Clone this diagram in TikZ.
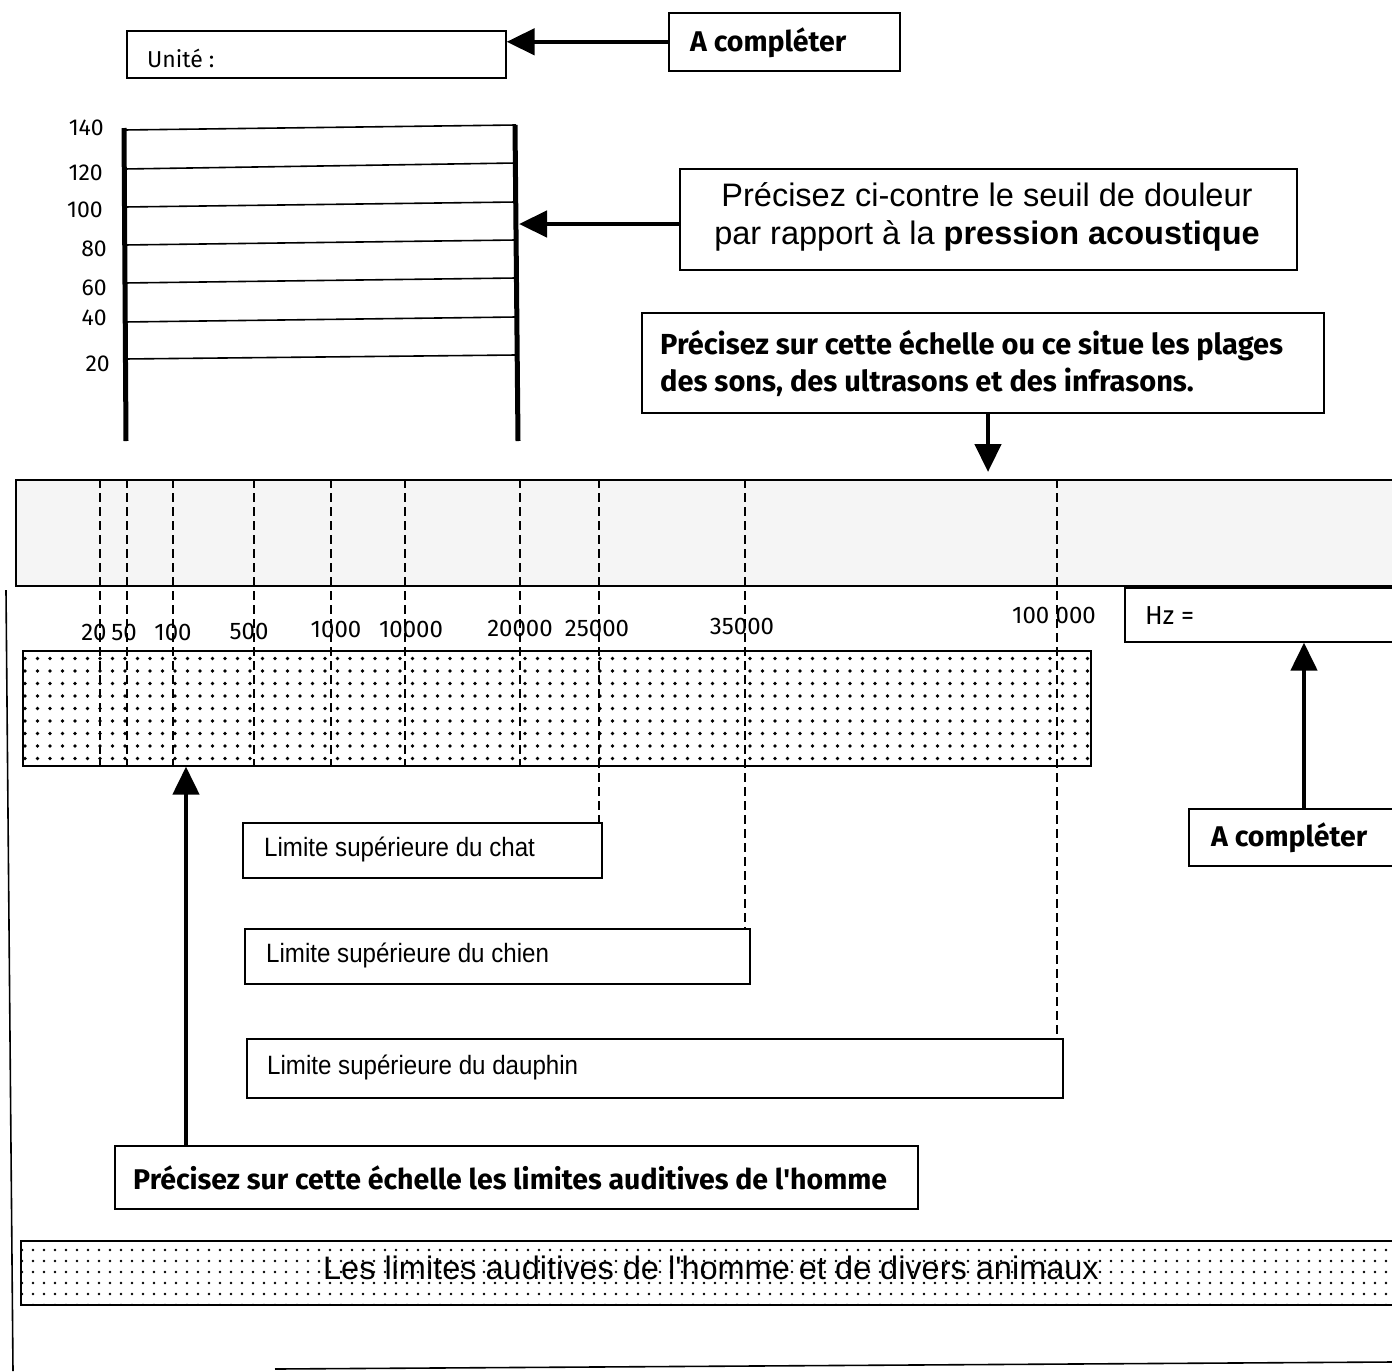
\documentclass[tikz,border=0pt]{standalone}
\usepackage{fontspec}
\setmainfont{Liberation Sans}
\newfontfamily\comic{Fira Sans}
\usetikzlibrary{arrows.meta,patterns.meta}
\begin{document}
\begin{tikzpicture}[x=1pt,y=-1pt,
  box/.style={draw, line width=1.6pt, rectangle, inner sep=0pt, anchor=north west},
  bigarrow/.style={line width=4.5pt, -{Triangle[length=28pt,width=26pt]}},
  dashline/.style={line width=1.8pt, dash pattern=on 9pt off 5pt},
  thinline/.style={line width=1.6pt},
  thickline/.style={line width=5pt},
  txt/.style={inner sep=0pt, anchor=west},
  scalelbl/.style={inner sep=0pt, anchor=east, font=\comic\fontsize{23}{24}\selectfont},
  freqlbl/.style={inner sep=0pt, font=\comic\fontsize{24}{26}\selectfont},
  comicbold/.style={font=\comic\bfseries\fontsize{28.5}{37}\selectfont},
  arial/.style={font=\fontsize{26.5}{30}\selectfont},
  dots/.style={pattern={Dots[distance=12.5pt,radius=1.9pt]}},
  finedots/.style={pattern={Dots[distance=11pt,radius=1.3pt]}}
]
\useasboundingbox (0,0) rectangle (1392,1371);

% ---- top: unit box
\node[box, minimum width=379pt, minimum height=47pt] (unite) at (126,30) {};
\node[txt, font=\comic\fontsize{23}{24}\selectfont] (uniteT) at (147,58) {Unité :};
\node[box, minimum width=231pt, minimum height=58pt] (acomp1) at (668,12) {};
\node[txt, comicbold] (acomp1T) at (690,43) {A compléter};
\draw[bigarrow] (acomp1.west) -- (unite.east |- acomp1.west);

% ---- pressure scale
\coordinate (sLt) at (124,128);
\coordinate (sLb) at (126,441);
\coordinate (sRt) at (515,125);
\coordinate (sRb) at (518,441);
\draw[thickline] (sLt) -- (sLb);
\draw[thickline] (sRt) -- (sRb);
\foreach \yl/\yr in {130/125,169/163,207/202,245/240,283/278,322/317,359/355}{
  \draw[thinline] (124,\yl) -- (516,\yr);
}
\node[scalelbl] (l140) at (104,128) {140};
\node[scalelbl] (l120) at (103,173) {120};
\node[scalelbl] (l100) at (103,210) {100};
\node[scalelbl] (l80) at (107,249) {80};
\node[scalelbl] (l60) at (107,288) {60};
\node[scalelbl] (l40) at (107,318) {40};
\node[scalelbl] (l20) at (110,364) {20};

% ---- pain threshold box
\node[box, minimum width=617pt, minimum height=101pt] (douleur) at (679,168) {};
\node[inner sep=0pt, align=center, font=\fontsize{32.5}{38}\selectfont] (douleurT) at (987,217)
  {Précisez ci-contre le seuil de douleur\\par rapport à la \textbf{pression acoustique}};
\coordinate (scaleR) at (519,224);
\draw[bigarrow] (douleur.west |- scaleR) -- (scaleR);

% ---- ranges box
\node[box, minimum width=682pt, minimum height=100pt] (plages) at (641,312) {};
\node[txt, comicbold, font=\comic\bfseries\fontsize{29}{37}\selectfont, align=left] (plagesT) at (660,363)
  {Précisez sur cette échelle ou ce situe les plages\\des sons, des ultrasons et des infrasons.};
\coordinate (bandArrow) at (988,472);
\draw[bigarrow] (plages.south -| bandArrow) -- (bandArrow);

% ---- frequency bands
\node[box, minimum width=1400pt, minimum height=106pt, fill=black!4] (band) at (15,479) {};
\node[box, minimum width=1068pt, minimum height=115pt, dots] (dband) at (22,650) {};

% ---- boxes below
\node[box, minimum width=359pt, minimum height=55pt] (chat) at (242,822) {};
\node[txt, arial] (chatT) at (264,849) {\scalebox{0.91}[1]{Limite supérieure du chat}};
\node[box, minimum width=505pt, minimum height=55pt] (chien) at (244,928) {};
\node[txt, arial] (chienT) at (266,955) {\scalebox{0.91}[1]{Limite supérieure du chien}};
\node[box, minimum width=816pt, minimum height=59pt] (dauphin) at (246,1038) {};
\node[txt, arial] (dauphinT) at (267,1067) {\scalebox{0.91}[1]{Limite supérieure du dauphin}};

% ---- dashed frequency marks
\foreach \x/\n in {100/1,127/2,173/3,254/4,331/5,405/6,520/7}{
  \coordinate (d\n) at (\x,479);
  \draw[dashline] (d\n) -- (d\n |- dband.south);
}
\coordinate (d8) at (599,479);
\coordinate (d9) at (745,479);
\coordinate (d10) at (1057,479);
\draw[dashline] (d8) -- (d8 |- chat.north);
\draw[dashline] (d9) -- (d9 |- chien.north);
\draw[dashline] (d10) -- (d10 |- dauphin.north);

\node[freqlbl] (f20) at (94,632) {20};
\node[freqlbl] (f50) at (124,632) {50};
\node[freqlbl] (f100) at (173,632) {100};
\node[freqlbl] (f500) at (249,631) {500};
\node[freqlbl] (f1000) at (336,629) {1000};
\node[freqlbl] (f10000) at (411,629) {10000};
\node[freqlbl] (f20000) at (520,628) {20000};
\node[freqlbl] (f25000) at (597,628) {25000};
\node[freqlbl] (f35000) at (742,626) {35000};
\node[freqlbl] (f100000) at (1054,615) {100 000};

% ---- Hz box
\node[box, minimum width=300pt, minimum height=54pt] (hz) at (1124,587) {};
\node[txt, font=\comic\fontsize{26}{28}\selectfont] (hzT) at (1145,616) {Hz =};
\node[box, minimum width=250pt, minimum height=57pt] (acomp2) at (1188,808) {};
\node[txt, comicbold] (acomp2T) at (1211,838) {A compléter};
\coordinate (hzA) at (1304,0);
\draw[bigarrow] (acomp2.north -| hzA) -- (hz.south -| hzA);

% ---- human limits
\node[box, minimum width=803pt, minimum height=63pt] (homme) at (114,1145) {};
\node[txt, comicbold] (hommeT) at (133,1178) {Précisez sur cette échelle les limites auditives de l\textquotesingle homme};
\coordinate (hA) at (186,0);
\draw[bigarrow] (homme.north -| hA) -- (dband.south -| hA);

% ---- title band
\node[box, minimum width=1400pt, minimum height=64pt, finedots] (tband) at (20,1240) {};
\node[inner sep=0pt, font=\fontsize{32.5}{36}\selectfont] (tbandT) at (711,1268)
  {Les limites auditives de l\textquotesingle homme et de divers animaux};

% ---- page frame lines
\coordinate (lt) at (6,590);
\coordinate (lb) at (13,1371);
\draw[thinline] (lt) -- (lb);
\coordinate (bl) at (275,1369);
\coordinate (br) at (1392,1362);
\draw[thinline] (bl) -- (br);
\end{tikzpicture}
\end{document}
